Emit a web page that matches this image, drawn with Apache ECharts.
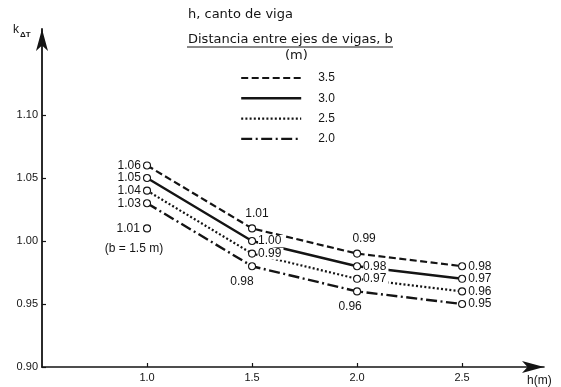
<!DOCTYPE html>
<html>
<head>
<meta charset="utf-8">
<script src="https://cdn.jsdelivr.net/npm/echarts@6/dist/echarts.min.js"></script>
<style>html,body{margin:0;padding:0;background:#fff}#c{width:561px;height:387px}</style>
</head>
<body>
<div id="c"></div>
<script>
// ---- data ----
const hValues = [1.0, 1.5, 2.0, 2.5];
const k35 = [1.06, 1.01, 0.99, 0.98];
const k30 = [1.05, 1.00, 0.98, 0.97];
const k25 = [1.04, 0.99, 0.97, 0.96];
const k20 = [1.03, 0.98, 0.96, 0.95];
const b15Point = [1.0, 1.01];
const seriesNames = ['3.5', '3.0', '2.5', '2.0'];
const xTicks = [1.0, 1.5, 2.0, 2.5];
const yTicks = [0.90, 0.95, 1.00, 1.05, 1.10];

// ---- styles ----
const INK = '#141414';
const FONT = 'Liberation Sans';
const lineStyles = {
  '3.5': { width: 2.2, type: [7, 3.5] },
  '3.0': { width: 2.4, type: 'solid' },
  '2.5': { width: 2.2, type: [2, 2.2] },
  '2.0': { width: 2.4, type: [11, 3.5, 2, 3.5] }
};
// label placement per point: [position, offset, whiteBackground]
const labelPlacement = {
  '3.5': [['left', [0, 0]], ['top', [5, 0]], ['top', [7, 0]], ['right', [0, 0]]],
  '3.0': [['left', [0, 0]], ['right', [0, 0], true], ['right', [0, 0], true], ['right', [0, 0]]],
  '2.5': [['left', [0, 0]], ['right', [0, 0], true], ['right', [0, 0], true], ['right', [0, 0]]],
  '2.0': [['left', [0, 0]], ['bottom', [-10, 0]], ['bottom', [-7, 0]], ['right', [0, 0]]]
};
const valuesByName = { '3.5': k35, '3.0': k30, '2.5': k25, '2.0': k20 };

const series = [];
seriesNames.forEach(function (name) {
  const vals = valuesByName[name];
  series.push({
    name: name,
    type: 'line',
    z: 2,
    symbol: 'none',
    silent: true,
    data: hValues.map(function (h, i) { return [h, vals[i]]; }),
    lineStyle: { color: INK, width: lineStyles[name].width, type: lineStyles[name].type },
    itemStyle: { color: INK }
  });
});
seriesNames.forEach(function (name) {
  const vals = valuesByName[name];
  series.push({
    name: 'pts' + name,
    type: 'scatter',
    z: 5,
    symbol: 'circle',
    symbolSize: 7,
    itemStyle: { color: '#fff', borderColor: INK, borderWidth: 1.1, opacity: 1 },
    data: hValues.map(function (h, i) {
      const p = labelPlacement[name][i];
      return {
        value: [h, vals[i]],
        label: {
          show: true,
          position: p[0],
          offset: p[1],
          distance: p[0] === 'top' || p[0] === 'bottom' ? 5 : 2,
          formatter: vals[i].toFixed(2),
          color: INK,
          fontFamily: FONT,
          fontSize: 12,
          lineHeight: 12,
          backgroundColor: p[2] ? '#fff' : 'transparent',
          padding: p[2] ? [0, 2, 0, 0] : 0
        }
      };
    })
  });
});
series.push({
  name: 'b15',
  type: 'scatter',
  z: 5,
  symbol: 'circle',
  symbolSize: 7,
  itemStyle: { color: '#fff', borderColor: INK, borderWidth: 1.1, opacity: 1 },
  data: [
    { value: b15Point, label: { show: true, position: 'left', distance: 3, formatter: b15Point[1].toFixed(2) } },
    { value: b15Point, symbolSize: 0, label: { show: true, position: 'bottom', distance: 14, offset: [-13, 0], formatter: '(b = 1.5 m)' } }
  ],
  label: { color: INK, fontFamily: FONT, fontSize: 12 }
});

const chart = echarts.init(document.getElementById('c'), null, { renderer: 'canvas' });
chart.setOption({
  animation: false,
  backgroundColor: '#fff',
  grid: { left: 42, right: 17, top: 29, bottom: 20, containLabel: false },
  xAxis: {
    type: 'value',
    min: 0.5,
    max: 2.89,
    axisLine: { show: true, lineStyle: { color: INK, width: 1.6 }, symbol: ['none', 'arrow'], symbolSize: [9, 22] },
    axisTick: { show: true, inside: true, length: 4, customValues: xTicks, lineStyle: { color: INK, width: 1.2 } },
    axisLabel: { customValues: xTicks, formatter: function (v) { return v.toFixed(1); }, color: INK, fontFamily: FONT, fontSize: 11, margin: 5 },
    splitLine: { show: false }
  },
  yAxis: {
    type: 'value',
    min: 0.9,
    max: 1.1683,
    axisLine: { show: true, lineStyle: { color: INK, width: 1.8 }, symbol: ['none', 'arrow'], symbolSize: [9, 22] },
    axisTick: { show: true, inside: true, length: 4, customValues: yTicks, lineStyle: { color: INK, width: 1.2 } },
    axisLabel: { customValues: yTicks, formatter: function (v) { return v.toFixed(2); }, color: INK, fontFamily: FONT, fontSize: 11, margin: 4 },
    splitLine: { show: false }
  },
  legend: {
    orient: 'vertical',
    left: 240,
    top: 71,
    padding: 0,
    itemWidth: 60,
    itemHeight: 14,
    itemGap: 6.3,
    selectedMode: false,
    itemStyle: { color: 'rgba(0,0,0,0)', borderColor: 'rgba(0,0,0,0)', borderWidth: 0 },
    textStyle: { color: INK, fontFamily: FONT, fontSize: 12, lineHeight: 14, padding: [0, 0, 0, 12] },
    data: seriesNames.map(function (n) {
      return { name: n, lineStyle: { color: INK, width: lineStyles[n].width, type: lineStyles[n].type } };
    })
  },
  graphic: [
    { type: 'text', left: 188, top: 8, style: { text: 'h, canto de viga', fill: INK, font: '13px "DejaVu Sans"' } },
    { type: 'text', left: 188, top: 33, style: { text: 'Distancia entre ejes de vigas, b', fill: INK, font: '13px "DejaVu Sans"' } },
    { type: 'line', shape: { x1: 187, y1: 47, x2: 393, y2: 47 }, style: { stroke: INK, lineWidth: 1 } },
    { type: 'text', left: 285, top: 49, style: { text: '(m)', fill: INK, font: '13px "DejaVu Sans"' } },
    { type: 'text', left: 13, top: 24, style: {
        text: '{k|k}{s|ΔT}', fill: INK,
        rich: { k: { fontFamily: FONT, fontSize: 12, verticalAlign: 'top' }, s: { fontFamily: FONT, fontSize: 8, fontWeight: 'bold', padding: [7, 0, 0, 1] } }
      } },
    { type: 'text', left: 527, top: 375, style: { text: 'h(m)', fill: INK, font: '12px "Liberation Sans"' } }
  ],
  series: series
});
</script>
</body>
</html>
